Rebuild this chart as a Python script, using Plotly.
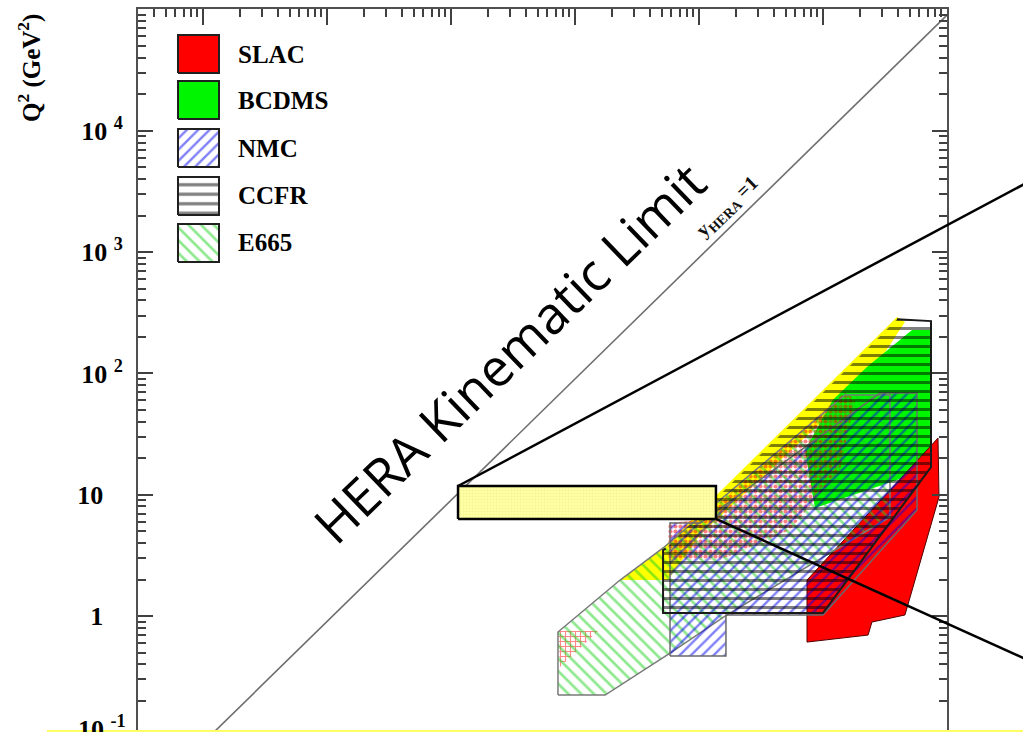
import math
import plotly.graph_objects as go

# ---------------- data (Bjorken x, Q^2 in GeV^2) ----------------
slac_x = [0.0743, 0.846, 0.862, 0.458, 0.248, 0.231, 0.0743]
slac_q2 = [1.98, 29.3, 9.57, 1.02, 0.892, 0.697, 0.610]

bcdms_x = [0.522, 0.757, 0.757, 0.0862, 0.0716, 0.120, 0.226]
bcdms_q2 = [228, 228, 16.6, 7.77, 23.4, 60.4, 113]

nmc_x = [5.84e-3, 5.84e-3, 1.02e-2, 0.288, 0.573, 0.573, 0.1, 0.0165, 0.0165]
nmc_q2 = [0.468, 5.84, 5.84, 68.9, 68.9, 7.48, 1.02, 1.02, 0.468]

ccfr_x = [5.13e-3, 5.13e-3, 5.40e-3, 0.395, 0.743, 0.743, 0.1]
ccfr_q2 = [1.06, 3.50, 3.60, 280, 270, 16.9, 1.06]

e665_x = [7.29e-4, 7.29e-4, 2.31e-3, 5.13e-3, 0.150, 0.347, 0.347, 0.0743, 0.0168, 5.84e-3, 1.75e-3]
e665_q2 = [0.223, 0.738, 1.98, 3.64, 66.4, 66.4, 6.55, 2.53, 1.02, 0.495, 0.223]

yellow_x = [2.31e-3, 5.13e-3, 0.395, 0.458, 0.239, 0.137, 0.0102, 5.62e-3]
yellow_q2 = [1.98, 3.64, 292, 265, 97.0, 54.9, 4.65, 1.98]

reddot_x = [5.62e-3, 0.0102, 0.150, 0.181, 0.137, 0.0542, 0.0148, 5.62e-3]
reddot_q2 = [5.84, 6.19, 70.3, 60.4, 16.0, 5.12, 2.90, 2.90]

reddot_low_x = [7.29e-4, 1.53e-3, 7.57e-4]
reddot_low_q2 = [0.752, 0.752, 0.380]

hera_box_x = [1.14e-4, 0.0137]
hera_box_q2 = [6.31, 11.8]

kin_limit_x = [1e-6, 1.0]
kin_limit_q2 = [0.09, 90000]

legend_names = ["SLAC", "BCDMS", "NMC", "CCFR", "E665"]
y_tick_vals = [1, 10, 100, 1000, 10000]
y_tick_text = ["1", "10", "10\u00a0<sup>2</sup>", "10\u00a0<sup>3</sup>", "10\u00a0<sup>4</sup>"]

# ---------------- layout constants ----------------
W, H = 1023, 732
ML, MR, MT, MB = 138, 76, 9, 0
PW, PH = W - ML - MR, H - MT - MB
X_RANGE = [-6.524, 0.0]
Y_RANGE = [-0.956, 5.004]
SERIF = "Liberation Serif, Times New Roman, serif"


def px2paper(px, py):
    return (px - ML) / PW, (H - MB - py) / PH


def paper2data(u, v):
    return (10 ** (X_RANGE[0] + u * (X_RANGE[1] - X_RANGE[0])),
            10 ** (Y_RANGE[0] + v * (Y_RANGE[1] - Y_RANGE[0])))


def data2paper(x, y):
    return ((math.log10(x) - X_RANGE[0]) / (X_RANGE[1] - X_RANGE[0]),
            (math.log10(y) - Y_RANGE[0]) / (Y_RANGE[1] - Y_RANGE[0]))


styles = {
    "yellow": dict(fillcolor="#FFFF00", pattern=None, line=None),
    "SLAC": dict(fillcolor="#FF0000", pattern=None, line=("#500000", 1)),
    "BCDMS": dict(fillcolor="#00F500", pattern=None, line=None),
    "reddot": dict(fillcolor="rgba(0,0,0,0)",
                   pattern=dict(shape=".", fgcolor="#FF0000", bgcolor="rgba(0,0,0,0)", size=5, solidity=0.55),
                   line=None),
    "reddot_low": dict(fillcolor="rgba(0,0,0,0)",
                       pattern=dict(shape="+", fgcolor="#FF1010", bgcolor="rgba(0,0,0,0)", size=5, solidity=0.4),
                       line=None),
    "E665": dict(fillcolor="rgba(0,0,0,0)",
                 pattern=dict(shape="\\", fgcolor="#1ED21E", bgcolor="rgba(0,0,0,0)", size=9, solidity=0.3),
                 line=("#7A7A7A", 1.5)),
    "NMC": dict(fillcolor="rgba(0,0,0,0)",
                pattern=dict(shape="/", fgcolor="#0000F0", bgcolor="rgba(0,0,0,0)", size=8, solidity=0.3),
                line=("#6A6A6A", 1.5)),
    "CCFR": dict(fillcolor="rgba(0,0,0,0)",
                 pattern=dict(shape="-", fgcolor="#000000", bgcolor="rgba(0,0,0,0)", size=9, solidity=0.34),
                 line=("#1A1A1A", 2)),
}

fig = go.Figure()


def add_poly(xs, ys, st, outline_from=None):
    """Filled polygon; outline either closed, or open starting at vertex index outline_from."""
    cx = list(xs) + [xs[0]]
    cy = list(ys) + [ys[0]]
    kw = dict(x=cx, y=cy, mode="lines", fill="toself", fillcolor=st["fillcolor"],
              hoverinfo="skip", showlegend=False)
    if st["pattern"] is not None:
        kw["fillpattern"] = st["pattern"]
    if st["line"] is None or outline_from is not None:
        kw["line"] = dict(color="rgba(0,0,0,0)", width=0)
    else:
        kw["line"] = dict(color=st["line"][0], width=st["line"][1])
    fig.add_trace(go.Scatter(**kw))
    if outline_from is not None and st["line"] is not None:
        ox = list(xs[outline_from:]) + list(xs[:outline_from])
        oy = list(ys[outline_from:]) + list(ys[:outline_from])
        fig.add_trace(go.Scatter(x=ox, y=oy, mode="lines", hoverinfo="skip", showlegend=False,
                                 line=dict(color=st["line"][0], width=st["line"][1])))


# regions (bottom to top)
add_poly(yellow_x, yellow_q2, styles["yellow"])
add_poly(bcdms_x, bcdms_q2, styles["BCDMS"])
add_poly(slac_x, slac_q2, styles["SLAC"])
add_poly(reddot_x, reddot_q2, styles["reddot"])
add_poly(reddot_low_x, reddot_low_q2, styles["reddot_low"])
add_poly(e665_x, e665_q2, styles["E665"])
add_poly(nmc_x, nmc_q2, styles["NMC"])
add_poly(ccfr_x, ccfr_q2, styles["CCFR"], outline_from=3)

# HERA kinematic limit y=1
fig.add_trace(go.Scatter(x=kin_limit_x, y=kin_limit_q2, mode="lines",
                         line=dict(color="#6E6E6E", width=1.6), hoverinfo="skip", showlegend=False))

# HERA focus box
bx = [hera_box_x[0], hera_box_x[1], hera_box_x[1], hera_box_x[0], hera_box_x[0]]
by = [hera_box_q2[0], hera_box_q2[0], hera_box_q2[1], hera_box_q2[1], hera_box_q2[0]]
fig.add_trace(go.Scatter(x=bx, y=by, mode="lines", fill="toself", fillcolor="#FFFF99",
                         fillpattern=dict(shape="+", fgcolor="#E8E87A", bgcolor="#FFFFA6", size=3, solidity=0.25),
                         line=dict(color="black", width=2.5), hoverinfo="skip", showlegend=False))

# legend swatches (drawn as boxes inside the plot)
leg_tops = [35, 81, 129, 177, 224]
leg_h = 38
leg_x0, leg_x1 = 178, 219
annotations = []
for name, top in zip(legend_names, leg_tops):
    u0, v0 = px2paper(leg_x0, top + leg_h)
    u1, v1 = px2paper(leg_x1, top)
    xa, ya = paper2data(u0, v0)
    xb, yb = paper2data(u1, v1)
    st = styles[name]
    kw = dict(x=[xa, xb, xb, xa, xa], y=[ya, ya, yb, yb, ya], mode="lines", fill="toself",
              fillcolor=st["fillcolor"] if st["pattern"] is None else "rgba(0,0,0,0)",
              line=dict(color="#202020", width=2), hoverinfo="skip", showlegend=False)
    if st["pattern"] is not None:
        p = dict(st["pattern"])
        p["bgcolor"] = "white"
        if name == "CCFR":
            p["size"] = 9.5
        kw["fillpattern"] = p
    fig.add_trace(go.Scatter(**kw))
    lu, lv = px2paper(236, top + leg_h / 2)
    annotations.append(dict(x=lu, y=lv, xref="paper", yref="paper", text=name, showarrow=False,
                            xanchor="left", yanchor="middle",
                            font=dict(family=SERIF, size=25, color="black", weight="bold")))

# zoom-out lines from the HERA box to the right
c1 = data2paper(hera_box_x[0], hera_box_q2[1])
c2 = data2paper(hera_box_x[1], hera_box_q2[0])
e1 = px2paper(1030, 181)
e2 = px2paper(1030, 661)
shapes = [
    dict(type="line", xref="paper", yref="paper", x0=c1[0], y0=c1[1], x1=e1[0], y1=e1[1],
         line=dict(color="black", width=2.5)),
    dict(type="line", xref="paper", yref="paper", x0=c2[0], y0=c2[1], x1=e2[0], y1=e2[1],
         line=dict(color="black", width=2.5)),
]
yl0 = px2paper(47, 731)
yl1 = px2paper(1030, 731)
shapes.append(dict(type="line", xref="paper", yref="paper", x0=yl0[0], y0=yl0[1], x1=yl1[0], y1=yl1[1],
                   line=dict(color="#FFFF66", width=2)))

# texts
hu, hv = px2paper(508, 352)
annotations.append(dict(x=hu, y=hv, xref="paper", yref="paper", text="HERA Kinematic Limit",
                        showarrow=False, textangle=-44, xanchor="center", yanchor="middle",
                        font=dict(family="Open Sans, sans-serif", size=52, color="black")))
yu, yv = px2paper(727, 207)
annotations.append(dict(x=yu, y=yv, xref="paper", yref="paper", text="y<sub>HERA</sub> =1",
                        showarrow=False, textangle=-44, xanchor="center", yanchor="middle",
                        font=dict(family=SERIF, size=20, color="#111111", weight="bold")))
tu, tv = px2paper(29, 68)
annotations.append(dict(x=tu, y=tv, xref="paper", yref="paper", text="Q<sup>2</sup> (GeV<sup>2</sup>)",
                        showarrow=False, textangle=-90, xanchor="center", yanchor="middle",
                        font=dict(family=SERIF, size=25, color="black", weight="bold")))
# 10^-1 label (its tick lies just below the visible frame; the label is cut by the frame edge)
mu, mv = px2paper(128, 727)
annotations.append(dict(x=mu, y=mv, xref="paper", yref="paper", text="10\u00a0<sup>-1</sup>",
                        showarrow=False, xanchor="right", yanchor="middle",
                        font=dict(family=SERIF, size=26, color="black", weight="bold")))

minor_x = [m * 10 ** k for k in range(-7, 1) for m in range(2, 10)]
minor_y = [m * 10 ** k for k in range(-2, 5) for m in range(2, 10)]
pad = "\u00a0\u00a0\u00a0"
ytext = [t if "sup" in t else t + pad for t in y_tick_text]

fig.update_layout(
    width=W, height=H,
    margin=dict(l=ML, r=MR, t=MT, b=MB, pad=0),
    paper_bgcolor="white", plot_bgcolor="white",
    showlegend=False,
    shapes=shapes, annotations=annotations,
    xaxis=dict(type="log", range=X_RANGE, side="top", showgrid=False, zeroline=False,
               tickmode="array", tickvals=[10 ** k for k in range(-6, 1)], showticklabels=False,
               ticks="inside", ticklen=16, tickwidth=2, tickcolor="#404040",
               showline=True, linewidth=2, linecolor="#505050", mirror=False,
               minor=dict(tickmode="array", tickvals=minor_x, ticks="inside", ticklen=8, tickwidth=2,
                          tickcolor="#404040", showgrid=False)),
    yaxis=dict(type="log", range=Y_RANGE, showgrid=False, zeroline=False,
               tickmode="array", tickvals=y_tick_vals, ticktext=ytext,
               tickfont=dict(family=SERIF, size=26, color="black", weight="bold"),
               ticks="inside", ticklen=15, tickwidth=2, tickcolor="#404040", ticklabelstandoff=8,
               showline=True, linewidth=2, linecolor="#505050", mirror="ticks",
               minor=dict(tickmode="array", tickvals=minor_y, ticks="inside", ticklen=8, tickwidth=2,
                          tickcolor="#404040", showgrid=False)),
)

fig.write_html("out.html", config={"displayModeBar": False},
               post_script="document.body.style.margin='0';")
